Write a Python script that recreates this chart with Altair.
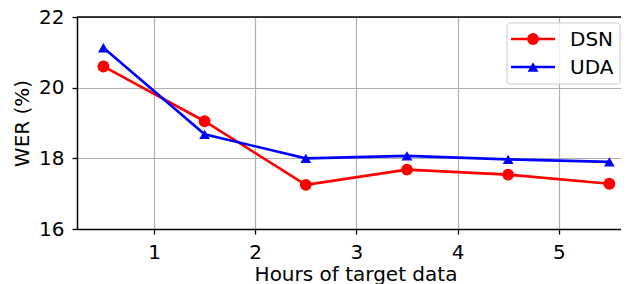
import altair as alt
import pandas as pd

hours = [0.5, 1.5, 2.5, 3.5, 4.5, 5.5]
dsn = [20.6, 19.05, 17.25, 17.68, 17.54, 17.28]
uda = [21.13, 18.68, 18.0, 18.07, 17.97, 17.9]
series_names = ["DSN", "UDA"]
series_values = [dsn, uda]
series_colors = ["#ff0000", "#0000ff"]
series_shapes = ["circle", "triangle-up"]
series_sizes = [140, 115]
x_ticks = [1, 2, 3, 4, 5]
y_ticks = [16, 18, 20, 22]

FONT = "DejaVu Sans"
W, H = 544, 212

xscale = alt.Scale(domain=[0.239, 5.615], nice=False, zero=False)
yscale = alt.Scale(domain=[16, 22], nice=False, zero=False)

xaxis = alt.Axis(values=x_ticks, format="d", title="Hours of target data",
                 titleX=278.5)
yaxis = alt.Axis(values=y_ticks, format="d", title="WER (%)")

layers = []
for name, vals, col, shp, sz in zip(series_names, series_values, series_colors,
                                    series_shapes, series_sizes):
    df = pd.DataFrame({"hours": hours, "wer": vals, "series": name})
    base = alt.Chart(df)
    line = base.mark_line(color=col, strokeWidth=2.6).encode(
        x=alt.X("hours:Q", scale=xscale, axis=xaxis),
        y=alt.Y("wer:Q", scale=yscale, axis=yaxis),
    )
    pts = base.mark_point(filled=True, shape=shp, size=sz, color=col, opacity=1).encode(
        x=alt.X("hours:Q", scale=xscale),
        y=alt.Y("wer:Q", scale=yscale),
    )
    layers += [line, pts]

one = pd.DataFrame({"a": [0]})
top_border = alt.Chart(one).mark_rule(color="black", strokeWidth=1.5).encode(
    x=alt.value(0), x2=alt.value(W), y=alt.value(0)
)

# legend
LX = -4
box = alt.Chart(one).mark_rect(fill="white", fillOpacity=0.8, stroke="#cccccc",
                               strokeWidth=1, cornerRadius=3).encode(
    x=alt.value(434 + LX), x2=alt.value(543), y=alt.value(6), y2=alt.value(67)
)
leg_layers = [box]
for i, (name, col, shp, sz) in enumerate(zip(series_names, series_colors,
                                             series_shapes, series_sizes)):
    ly = 22 + 28 * i
    d = pd.DataFrame({"label": [name]})
    leg_layers.append(alt.Chart(d).mark_rule(color=col, strokeWidth=2.6).encode(
        x=alt.value(438 + LX), x2=alt.value(482 + LX), y=alt.value(ly)))
    leg_layers.append(alt.Chart(d).mark_point(filled=True, shape=shp, size=sz,
                                              color=col, opacity=1).encode(
        x=alt.value(460 + LX), y=alt.value(ly)))
    leg_layers.append(alt.Chart(d).mark_text(align="left", baseline="middle",
                                             font=FONT, fontSize=20, color="black").encode(
        x=alt.value(497 + LX), y=alt.value(ly + 1), text="label:N"))

chart = alt.layer(*layers, top_border, *leg_layers).properties(
    width=W, height=H,
    autosize=alt.AutoSizeParams(type="none"),
    padding={"left": 69, "top": 9, "right": 0, "bottom": 55},
).configure_view(stroke=None).configure_axis(
    labelFont=FONT, labelFontSize=20, labelColor="black",
    titleFont=FONT, titleFontSize=20, titleFontWeight="normal", titleColor="black",
    tickColor="black", tickSize=5, tickWidth=1.3,
    domainColor="black", domainWidth=1.5,
    gridColor="#b0b0b0", gridWidth=1.2, gridOpacity=1,
    labelPadding=8,
).configure_axisX(titlePadding=2).configure_axisY(titlePadding=6)

chart.save("out.html", embed_options={"renderer": "svg", "actions": False})
